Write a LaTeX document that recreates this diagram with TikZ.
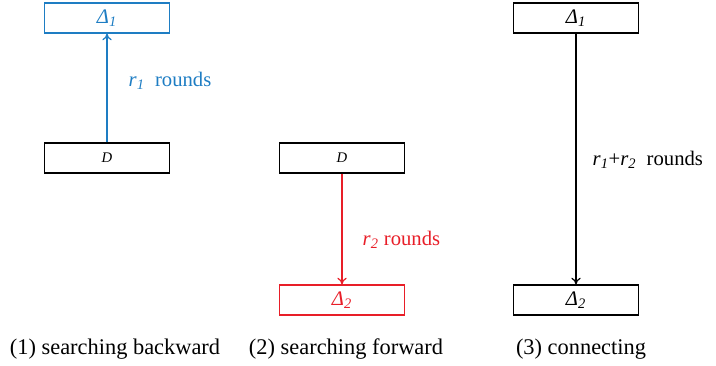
\documentclass[tikz,border=0pt]{standalone}
\usepackage{fontspec}
\setmainfont{Liberation Serif}
\usetikzlibrary{arrows.meta}
\definecolor{myblue}{RGB}{30,125,195}
\definecolor{myred}{RGB}{232,30,40}

\begin{document}
\begin{tikzpicture}[x=0.75pt, y=-0.75pt]
\tikzset{every node/.style={font=\fontsize{15.5}{17}\selectfont},
  box/.style={draw, line width=0.9pt, minimum width=94pt, minimum height=22.5pt, inner sep=0pt},
  captext/.style={font=\fontsize{16.8}{18}\selectfont},
  arr/.style={line width=0.9pt, -{To[length=5pt, width=7pt]}}}
        \useasboundingbox (0,0) rectangle (716,365);

        % (1) searching backward
        \node[box, myblue] (d1a) at (107, 18) {\textit{Δ}\textsubscript{\textit{1}}};
        \node[box, font=\fontsize{11}{12}\selectfont] (da) at (107, 158) {\textit{D}};
        \draw[arr, draw=myblue] (da) -- (d1a);
        \node[myblue, anchor=west] (ra) at (124, 81) {\textit{r}\textsubscript{\textit{1}}\ \ rounds};
        \node[captext] (capa) at (115, 349) {(1) searching backward};

        % (2) searching forward
        \node[box, font=\fontsize{11}{12}\selectfont] (db) at (342, 158) {\textit{D}};
        \node[box, myred] (d2b) at (342, 300) {\textit{Δ}\textsubscript{\textit{2}}};
        \draw[arr, draw=myred] (db) -- (d2b);
        \node[myred, anchor=west] (rb) at (358, 240) {\textit{r}\textsubscript{\textit{2}} rounds};
        \node[captext] (capb) at (346, 349) {(2) searching forward};

        % (3) connecting
        \node[box] (d1c) at (576, 18) {\textit{Δ}\textsubscript{\textit{1}}};
        \node[box] (d2c) at (576, 300) {\textit{Δ}\textsubscript{\textit{2}}};
        \draw[arr] (d1c) -- (d2c);
        \node[anchor=west] (rc) at (588, 160) {\textit{r}\textsubscript{\textit{1}}+\textit{r}\textsubscript{\textit{2}}\ \ rounds};
        \node[captext] (capc) at (581, 349) {(3) connecting};
\end{tikzpicture}
\end{document}
